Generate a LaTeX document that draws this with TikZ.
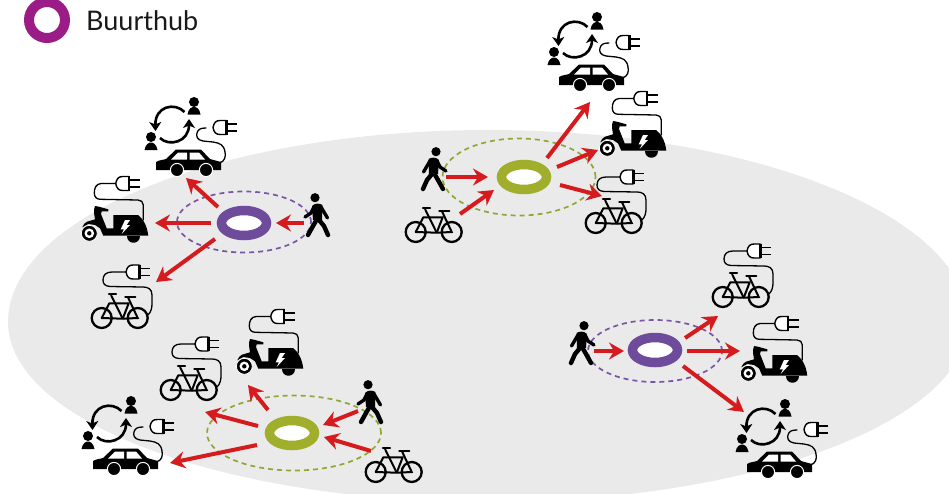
\documentclass[tikz,border=0pt]{standalone}
\usepackage{fontspec}
\setmainfont{Lato}
\usetikzlibrary{shapes.geometric,arrows.meta}
\definecolor{hubpurple}{HTML}{6F4C9B}
\definecolor{hubgreen}{HTML}{A0AE2B}
\definecolor{dashpurple}{HTML}{7A55A5}
\definecolor{dashgreen}{HTML}{8DA835}
\definecolor{legendpurple}{HTML}{9B1C87}
\definecolor{arrowred}{HTML}{D51B1E}
\definecolor{floorgray}{HTML}{EAEAEA}
\tikzset{
  x=1pt,y=-1pt,
  ringnode/.style={ellipse,draw=#1,line width=9.5pt,fill=white,minimum width=45pt,minimum height=25pt,inner sep=0pt},
  zone/.style n args={3}{ellipse,draw=#1,line width=1.7pt,dash pattern=on 5pt off 4pt,minimum width=#2,minimum height=#3,inner sep=0pt},
  flow/.style={draw=arrowred,line width=4pt,-{Stealth[length=15pt,width=17pt,inset=5pt]}},
  cable/.style={line width=1.3pt,draw=black,line cap=round},
  plug/.pic={
    \draw[line width=1.4pt,fill=white] (0,0) .. controls (1,-5) and (3,-7) .. (7,-7) -- (13,-7) -- (13,7) -- (7,7) .. controls (3,7) and (1,5) .. (0,0) -- cycle;
    \draw[line width=2.2pt] (13.5,-7.4) -- (13.5,7.4);
    \draw[line width=1.6pt] (14,-3.7) -- (24,-3.7) (14,3.5) -- (24,3.5);
  },
  carpic/.pic={
    \draw[cable] (30,1) .. controls (36,0) and (37,-6) .. (36,-10) .. controls (35,-17) and (31,-19) .. (24,-20) -- (14,-21) .. controls (8,-22) and (7,-26) .. (8,-29) .. controls (9,-33) and (12,-34) .. (17,-34);
    \pic at (24,-34.5) {plug};
    \fill[black] (-33,8) -- (-33,0) .. controls (-30,-2) and (-26,-2) .. (-23,-3) -- (-13,-12.5) -- (12,-12.5) -- (21,-3) -- (32,0) -- (32,8) -- cycle;
    \fill[white] (-18,-2.5) -- (-11,-9.5) -- (-2,-9.5) -- (-2,-2.5) -- cycle;
    \fill[white] (0.5,-9.5) -- (10,-9.5) -- (16,-2.5) -- (0.5,-2.5) -- cycle;
    \fill[black,draw=white,line width=1pt] (-12,8) circle (6.6);
    \fill[black,draw=white,line width=1pt] (17,8) circle (6.6);
    \fill[black] (5,-60) circle (5);
    \fill[black] (-1.5,-47.5) .. controls (-0.5,-54) and (3,-55) .. (5,-55) .. controls (7,-55) and (10.5,-54) .. (11.5,-47.5) -- cycle;
    \fill[black] (-38,-25) circle (5);
    \fill[black] (-44.5,-12) .. controls (-43.5,-18) and (-40,-19.5) .. (-38,-19.5) .. controls (-36,-19.5) and (-32.5,-18) .. (-31.5,-12) -- cycle;
    \draw[line width=2.6pt,-{Stealth[length=9pt,width=12pt,inset=2.5pt]}] (-4.5,-50) .. controls (-14,-60) and (-34,-56) .. (-33.5,-31);
    \draw[line width=2.6pt,-{Stealth[length=9pt,width=12pt,inset=2.5pt]}] (-29,-24) .. controls (-20,-15) and (0,-20) .. (0,-43);
  },
  scooterpic/.pic={
    \draw[cable] (28.3,-3) -- (28.3,-18) .. controls (28.3,-21) and (26,-23) .. (23,-23) -- (-15,-23.7) .. controls (-18.5,-24) and (-20.7,-26) .. (-20.7,-30) .. controls (-20.7,-35) and (-19,-39) .. (-14,-39.5) -- (1,-39.5);
    \pic at (0.7,-39.5) {plug};
    \fill[black] (11.5,13) .. controls (11.5,21.5) and (25,21.5) .. (25,13) -- cycle;
    \fill[black] (-32.7,4.3) .. controls (-31,1) and (-30,-0.5) .. (-28,-1.3) -- (-20,-3.7) .. controls (-20.5,-8) and (-22,-12) .. (-20,-17) -- (-16,-16.3) -- (-6.7,-13.7) -- (-6.7,-11.7) -- (-13.3,-11.7) -- (-14,-9) -- (-8.3,5.3) -- (-1.7,5.3) -- (-1.7,-8) -- (23,-8) .. controls (28,-4) and (32,2) .. (33.3,12.7) -- (-11.7,12.7) -- (-15,5.3) -- (-20,2) -- (-26.7,1) -- cycle;
    \fill[black,draw=white,line width=0.8pt] (-25.7,10.3) circle (8);
    \fill[white] (-25.7,10.3) circle (4.8);
    \fill[black] (-25.7,10.3) circle (2.2);
    \fill[white] (10,-3) -- (5.7,6.3) -- (9,6.3) -- (6.7,11) -- (15,2) -- (11.7,2) -- (15,-3) -- cycle;
  },
  bikepic/.pic={
    \draw[line width=2.3pt] (-18.3,6) circle (10) (17.7,6) circle (10);
    \draw[line width=2pt,line join=round] (-18.3,6) -- (-10.7,-8.7) -- (8.7,-8.7) -- (2.7,6.7) -- cycle;
    \draw[line width=2pt] (-9,-17) -- (2.7,6.7);
    \draw[line width=2pt] (7.7,-15.3) -- (17.7,6) -- (2.7,6.7);
    \draw[line width=2.2pt,line cap=round] (-11,-17.7) -- (-4,-17.7) (5.3,-15.3) -- (15.3,-15.3);
  },
  pluggedbike/.pic={
    \draw[cable] (28,3) .. controls (31,0) and (32,-4) .. (32,-8) -- (32,-17) .. controls (32,-23) and (28,-25) .. (23,-25) -- (-10,-25.5) .. controls (-15,-26) and (-17,-28) .. (-17,-32) .. controls (-17,-37) and (-14,-40) .. (-8,-40) -- (7,-40);
    \pic at (6,-40) {plug};
    \pic {bikepic};
  },
  walkerpic/.pic={
    \fill[black] (3,-19.3) circle (4.6);
    \fill[black] (-4.5,-12) .. controls (-1,-14) and (3,-14) .. (6,-11) -- (5,3) -- (-4,5) -- cycle;
    \draw[line width=3.4pt,line cap=round,line join=round] (-3,-10) -- (-9.5,1);
    \draw[line width=3.4pt,line cap=round,line join=round] (4,-10) -- (7,-4) -- (13,0);
    \draw[line width=4.4pt,line cap=round,line join=round] (-1,3) -- (-6,9) -- (-10,18);
    \draw[line width=4.4pt,line cap=round,line join=round] (1.5,3) -- (5,9) -- (10,18);
  },
}
\begin{document}
\begin{tikzpicture}
\useasboundingbox (0,0) rectangle (949,493);
\begin{scope}
\clip (0,0) rectangle (949,493);
\fill[floorgray] (8,322) .. controls (8,216) and (223,130) .. (488,130) .. controls (753,130) and (968,216) .. (968,322) .. controls (968,421) and (753,502) .. (488,502) .. controls (223,502) and (8,421) .. (8,322) -- cycle;
\node[ellipse,draw=legendpurple,line width=10pt,fill=white,minimum width=36pt,minimum height=36pt,inner sep=0pt] (legend) at (47,20) {};
\end{scope}
\node[anchor=west,inner sep=0pt,font=\fontsize{27}{31}\selectfont,text=black!90] (legendtext) at (86,21) {Buurthub};

% dashed zones
\node[zone={dashpurple}{134pt}{61pt}] (zoneA) at (244,222) {};
\node[zone={dashgreen}{153pt}{77pt}] (zoneB) at (519,177) {};
\node[zone={dashgreen}{174pt}{75pt}] (zoneC) at (294,433) {};
\node[zone={dashpurple}{134pt}{62pt}] (zoneD) at (655,351) {};

% hub rings
\node[ringnode=hubpurple] (hubA) at (244,223) {};
\node[ringnode=hubgreen] (hubB) at (524,177) {};
\node[ringnode=hubgreen] (hubC) at (292,433) {};
\node[ringnode=hubpurple] (hubD) at (655,350) {};

% icons, hub A
\pic at (189,162) {carpic};
\pic at (115,223) {scooterpic};
\pic at (120,312) {pluggedbike};
\pic[xscale=-1] at (318,217) {walkerpic};
% icons, hub B
\pic at (592,77) {carpic};
\pic at (633,138) {scooterpic};
\pic at (614,217) {pluggedbike};
\pic at (433,171) {walkerpic};
\pic at (434,226) {bikepic};
% icons, hub C
\pic at (270,356) {scooterpic};
\pic at (189,384) {pluggedbike};
\pic at (126,461) {carpic};
\pic[xscale=-1] at (371,404) {walkerpic};
\pic at (394,466) {bikepic};
% icons, hub D
\pic at (581,345) {walkerpic};
\pic at (741,291) {pluggedbike};
\pic at (774,363) {scooterpic};
\pic at (780,464) {carpic};

% arrow ends
\coordinate (a1s) at (218,207); \coordinate (a1e) at (186,178);
\coordinate (a2s) at (211,223); \coordinate (a2e) at (155,223);
\coordinate (a3s) at (215,239); \coordinate (a3e) at (156,282);
\coordinate (a4s) at (304,223); \coordinate (a4e) at (276,223);
\coordinate (b1s) at (446,177); \coordinate (b1e) at (488,177);
\coordinate (b2s) at (460,214); \coordinate (b2e) at (494,190);
\coordinate (b3s) at (547,158); \coordinate (b3e) at (590,102);
\coordinate (b4s) at (557,167); \coordinate (b4e) at (598,150);
\coordinate (b5s) at (560,185); \coordinate (b5e) at (602,196);
\coordinate (c1s) at (358,411); \coordinate (c1e) at (323,425);
\coordinate (c2s) at (371,451); \coordinate (c2e) at (324,437);
\coordinate (c3s) at (268,410); \coordinate (c3e) at (248,385);
\coordinate (c4s) at (258,426); \coordinate (c4e) at (205,412);
\coordinate (c5s) at (257,445); \coordinate (c5e) at (170,463);
\coordinate (d1s) at (594,351); \coordinate (d1e) at (624,351);
\coordinate (d2s) at (685,338); \coordinate (d2e) at (718,316);
\coordinate (d3s) at (687,351); \coordinate (d3e) at (740,351);
\coordinate (d4s) at (683,366); \coordinate (d4e) at (744,412);
\foreach \n in {a1,a2,a3,a4,b1,b2,b3,b4,b5,c1,c2,c3,c4,c5,d1,d2,d3,d4}
  \draw[flow] (\n s) -- (\n e);
\end{tikzpicture}
\end{document}
